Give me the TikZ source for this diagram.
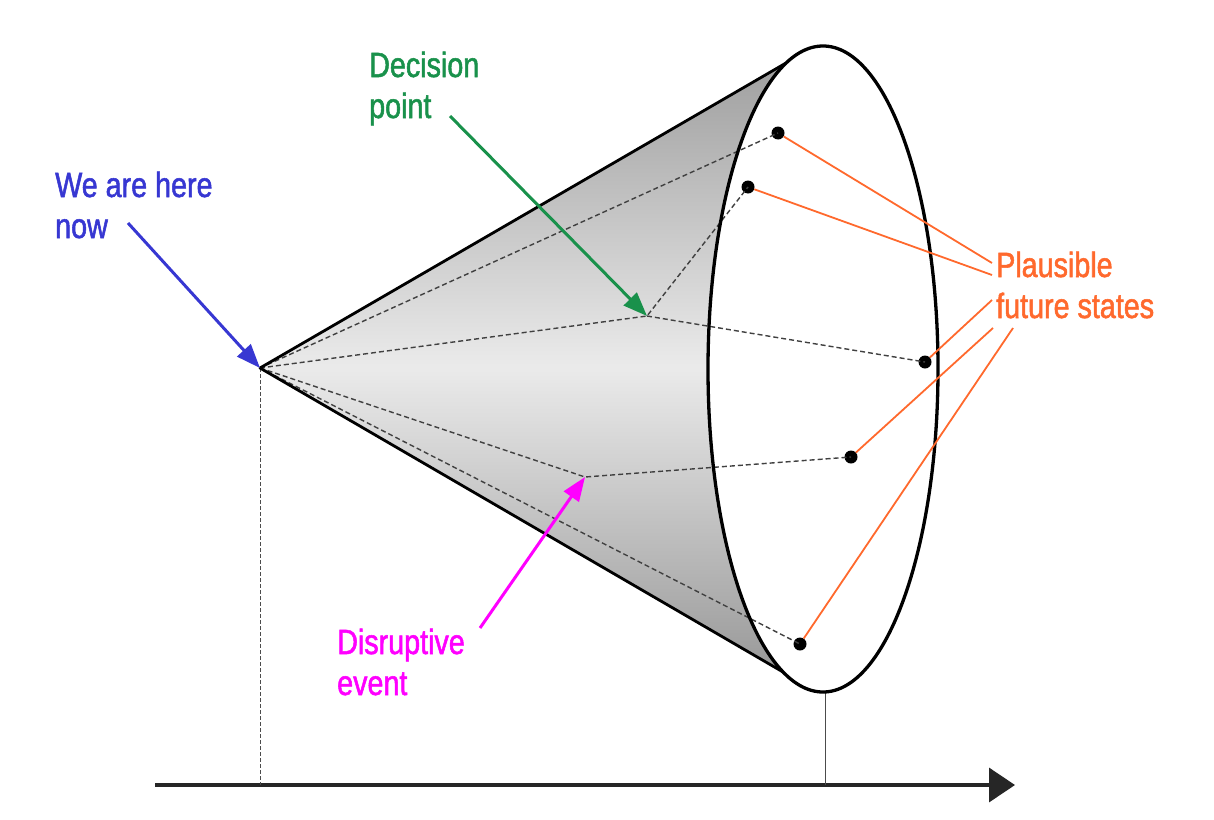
\documentclass[tikz,border=0pt]{standalone}
\usepackage{fontspec}
\setmainfont{Liberation Sans}[FakeStretch=0.82,FakeBold=1.5]
\usetikzlibrary{arrows.meta}
\definecolor{nowblue}{RGB}{55,55,210}
\definecolor{decgreen}{RGB}{25,145,75}
\definecolor{disrmag}{RGB}{255,0,255}
\definecolor{futorange}{RGB}{255,105,45}
\tikzset{
  lbl/.style={anchor=base west, align=left, inner sep=0pt, font=\fontsize{35}{41}\selectfont},
  trail/.style={draw=black!75, line width=1.4pt, dash pattern=on 5pt off 3pt},
  pointer/.style={line width=3pt, -{Triangle[length=24pt,width=18pt]}},
  state/.style={circle, fill=black, inner sep=0pt, minimum size=13pt},
  tie/.style={futorange, line width=1.8pt}
}
\begin{document}
\begin{tikzpicture}[x=1pt,y=-1pt]
\useasboundingbox (0,0) rectangle (1214,819);
% time axis
\coordinate (t0) at (260,785);
\coordinate (t1) at (825,785);
\draw[black!85, line width=3.5pt, -{Triangle[length=26pt,width=34pt]}] (155,785) -- (1015,785);
\coordinate (now) at (260,368);
\coordinate (horizon) at (825,692);
\draw[black!70, line width=0.9pt, dash pattern=on 4pt off 2pt] (now) -- (t0);
\draw[black!70, line width=0.9pt] (horizon) -- (t1);
% cone
\coordinate (rim) at (823,369);
\coordinate (up) at (786,63);
\coordinate (lo) at (783,672);
\shade[top color=gray!75, bottom color=gray!80, middle color=gray!16] (now) -- (up) -- (lo) -- cycle;
\fill[white] (rim) ellipse [x radius=115, y radius=323];
\coordinate (dec) at (647,316);
\coordinate (dis) at (585,477);
\node[state] (s1) at (778,133) {};
\node[state] (s2) at (748,187) {};
\node[state] (s3) at (925,362) {};
\node[state] (s4) at (851,457) {};
\node[state] (s5) at (800,644) {};
\draw[trail] (now) -- (s1.center);
\draw[trail] (now) -- (dec) -- (s2.center);
\draw[trail] (dec) -- (s3.center);
\draw[trail] (now) -- (dis) -- (s4.center);
\draw[trail] (now) -- (s5.center);
\draw[line width=3.3pt] (rim) ellipse [x radius=115, y radius=323];
\draw[line width=2.8pt, line join=round] (up) -- (now) -- (lo);
% labels
\node[lbl, text=nowblue] (herelbl) at (55,238) {We are here\\now};
\node[lbl, text=decgreen] (declbl) at (369,118) {Decision\\point};
\node[lbl, text=disrmag] (dislbl) at (337,695) {Disruptive\\event};
\node[lbl, text=futorange] (futlbl) at (996,318) {Plausible\\future states};
\coordinate (herefrom) at (128,223);
\coordinate (decfrom) at (450,116);
\coordinate (disfrom) at (480,628);
\draw[pointer, nowblue] (herefrom) -- (now);
\draw[pointer, decgreen] (decfrom) -- (dec);
\draw[pointer, disrmag] (disfrom) -- (dis);
\coordinate (f1) at (992,263);
\coordinate (f2) at (992,275);
\coordinate (f3) at (992,300);
\coordinate (f4) at (993,328);
\coordinate (f5) at (1013,328);
\draw[tie] (s1) -- (f1);
\draw[tie] (s2) -- (f2);
\draw[tie] (s3) -- (f3);
\draw[tie] (s4) -- (f4);
\draw[tie] (s5) -- (f5);
\end{tikzpicture}
\end{document}
